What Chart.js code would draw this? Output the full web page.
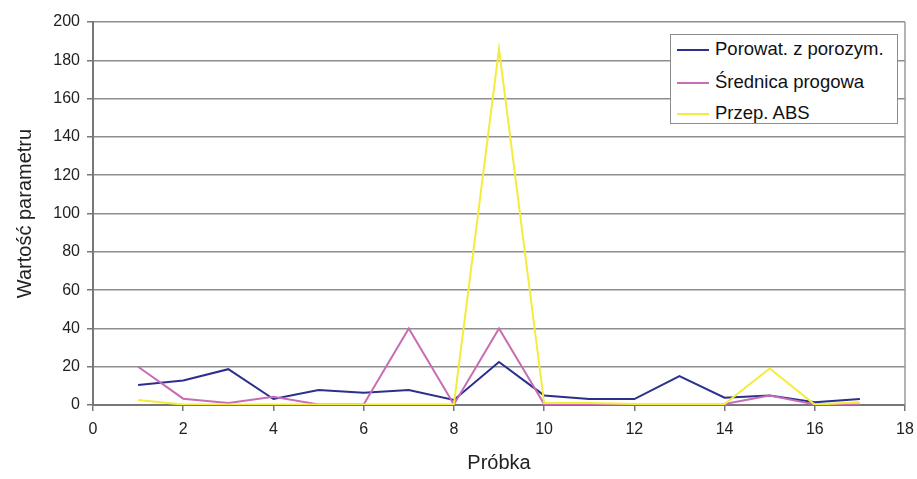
<!DOCTYPE html>
<html>
<head>
<meta charset="utf-8">
<script src="https://cdn.jsdelivr.net/npm/chart.js@4.4.0/dist/chart.umd.min.js"></script>
<style>
  html, body { margin: 0; padding: 0; background: #fff; }
  #wrap { position: relative; width: 917px; height: 479px; }
  #legenda {
    position: absolute; left: 670px; top: 34px; width: 228px; height: 90px;
    border: 1px solid #8c8c8c; background: #fff; box-sizing: border-box;
    font-family: "Liberation Sans", Arial, sans-serif; font-size: 18.5px; color: #111;
  }
  .poz { position: absolute; left: 6px; height: 22px; line-height: 22px; white-space: nowrap; }
  .poz span.kreska { display: inline-block; width: 32px; height: 2px; vertical-align: middle; margin-right: 6px; }
</style>
</head>
<body>
<div id="wrap">
  <canvas id="grafico" width="917" height="479"></canvas>
  <div id="legenda"></div>
</div>
<script>
const probki = [1, 2, 3, 4, 5, 6, 7, 8, 9, 10, 11, 12, 13, 14, 15, 16, 17];
const porowatosc = [10.5, 12.8, 18.7, 3.1, 7.8, 6.4, 7.8, 2.6, 22.5, 5.0, 3.1, 3.1, 15.1, 3.8, 5.0, 1.4, 3.1];
const srednica = [20, 3.3, 1.0, 4.3, 0.3, 0.3, 40, 0.3, 40, 0.5, 0.5, 0.5, 0.5, 0.5, 5, 0.3, 0.3];
const przepABS = [2.6, 0.2, 0.3, 0.3, 0.3, 0.3, 0.3, 0.3, 186, 1.0, 1.0, 0.5, 0.5, 0.5, 19.1, 0.2, 1.4];
const nazwy = ["Porowat. z porozym.", "Średnica progowa", "Przep. ABS"];
const kolory = ["#2b2f8e", "#c86cb4", "#f4ec3c"];

const fuente = "'Liberation Sans', Arial, sans-serif";

function punkty(valores) {
    return probki.map((x, i) => ({ x: x, y: valores[i] }));
}

// ramka po prawej stronie obszaru wykresu
const ramka = {
    id: "ramka",
    afterDraw(chart) {
        const a = chart.chartArea;
        const ctx = chart.ctx;
        ctx.save();
        ctx.strokeStyle = "#9a9a9a";
        ctx.lineWidth = 1.5;
        ctx.beginPath();
        ctx.moveTo(a.right, a.top);
        ctx.lineTo(a.right, a.bottom);
        ctx.stroke();
        ctx.restore();
    }
};

function generarGrafico() {
    const series = [porowatosc, srednica, przepABS];
    new Chart("grafico", {
        type: "line",
        data: {
            datasets: series.map((s, i) => ({
                label: nazwy[i],
                data: punkty(s),
                borderColor: kolory[i],
                backgroundColor: kolory[i],
                borderWidth: 2,
                pointRadius: 0,
                tension: 0,
                fill: false,
                order: 3 - i
            }))
        },
        options: {
            responsive: false,
            animation: false,
            layout: { padding: { left: 0, right: 12, top: 22, bottom: 0 } },
            plugins: { legend: { display: false }, tooltip: { enabled: false } },
            scales: {
                x: {
                    type: "linear", min: 0, max: 18,
                    afterFit: (s) => { s.height = 74; s.paddingLeft = 0; s.paddingRight = 0; },
                    ticks: { stepSize: 2, color: "#222", font: { family: fuente, size: 16 }, padding: 9 },
                    grid: { drawOnChartArea: false, tickLength: 6, tickColor: "#777", lineWidth: 1.5 },
                    border: { color: "#777", width: 2 },
                    title: { display: true, text: "Próbka", color: "#222", font: { family: fuente, size: 20 }, padding: { top: 12 } }
                },
                y: {
                    min: 0, max: 200,
                    afterFit: (s) => { s.width = 93; },
                    ticks: { stepSize: 20, color: "#222", font: { family: fuente, size: 16 }, padding: 7 },
                    grid: { color: "#8e8e8e", lineWidth: 1.5, tickLength: 6, tickColor: "#777" },
                    border: { color: "#777", width: 2 },
                    title: { display: true, text: "Wartość parametru", color: "#222", font: { family: fuente, size: 20 }, padding: { top: 13, bottom: 0 } }
                }
            }
        },
        plugins: [ramka]
    });
}

function generarLeyenda() {
    const caja = document.getElementById("legenda");
    const tops = [3, 36, 67];
    nazwy.forEach((n, i) => {
        const d = document.createElement("div");
        d.className = "poz";
        d.style.top = tops[i] + "px";
        d.innerHTML = `<span class="kreska" style="background:${kolory[i]}"></span>${n}`;
        caja.appendChild(d);
    });
}

generarGrafico();
generarLeyenda();
</script>
</body>
</html>
